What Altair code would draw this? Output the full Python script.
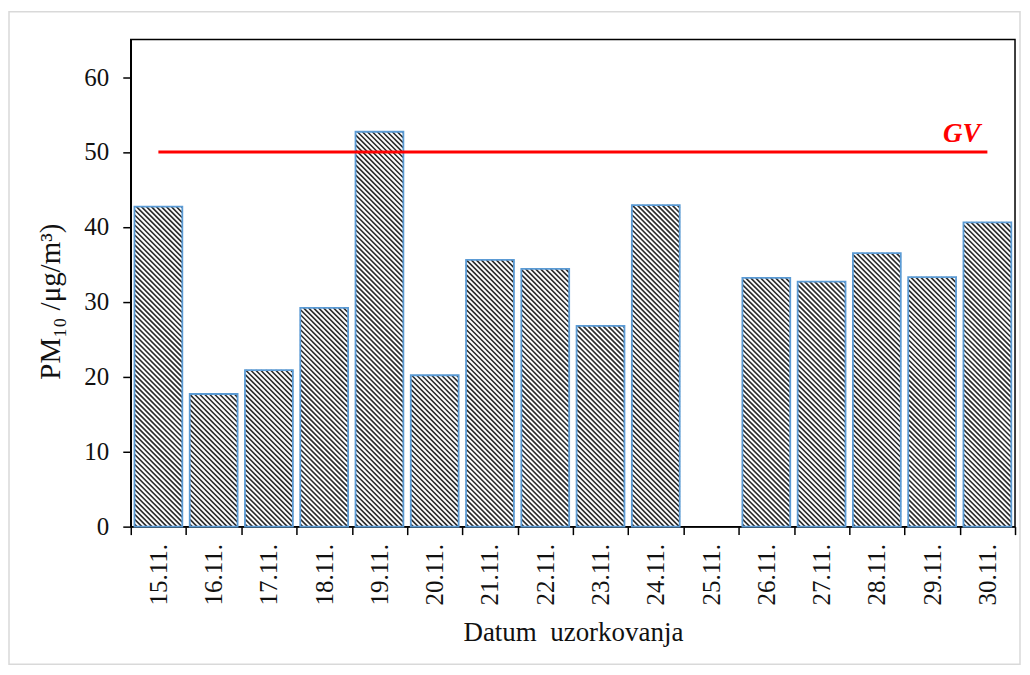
import json
import altair as alt
import pandas as pd

# ---------------- data ----------------
dates = ["15.11.", "16.11.", "17.11.", "18.11.", "19.11.", "20.11.", "21.11.", "22.11.",
         "23.11.", "24.11.", "25.11.", "26.11.", "27.11.", "28.11.", "29.11.", "30.11."]
pm10 = [42.7, 17.7, 20.9, 29.2, 52.7, 20.2, 35.6, 34.4,
        26.8, 42.9, None, 33.2, 32.7, 36.5, 33.3, 40.6]
gv_limit = 50
gv_label = "GV"
y_ticks = [0, 10, 20, 30, 40, 50, 60]
x_title = "Datum\u00a0 uzorkovanja"
y_title = "PM\u2081\u2080 /\u03bcg/m\u00b3)"

# ---------------- layout / style ----------------
n = len(dates)
W, H = 886, 488
YMAX = 65
HALF = 0.433          # half bar width in category units
STEP = 5.0            # hatch spacing in px
KX = W / n
KY = H / YMAX
FONT = "Liberation Serif"
BAR_EDGE = "#5b9bd5"

df = pd.DataFrame({"idx": list(range(n)), "date": dates, "pm10": pm10})
bars_df = df.dropna().reset_index(drop=True)

boundaries = [i - 0.5 for i in range(n + 1)]
label_arr = json.dumps(dates + [""])

x_scale = alt.Scale(domain=[-0.5, n - 0.5], nice=False, zero=False)
y_scale = alt.Scale(domain=[0, YMAX], nice=False, zero=True)

x_axis = alt.Axis(values=boundaries, labelExpr=f"{label_arr}[round(datum.value + 0.5)]",
                  labelAngle=270, labelOffset=KX / 2, tickSize=8, labelPadding=9,
                  grid=False, title=x_title, titlePadding=15, labelFlush=False,
                  labelOverlap=False, titleFontSize=27)
y_axis = alt.Axis(values=y_ticks, tickSize=8, labelPadding=14, grid=False,
                  title=y_title, titlePadding=18, titleY=262, titleAngle=270,
                  titleFontSize=29)

base = alt.Chart(bars_df).transform_calculate(
    xl=f"datum.idx - {HALF}", xr=f"datum.idx + {HALF}"
)

bg = base.mark_rect(fill="white").encode(
    x=alt.X("xl:Q", scale=x_scale, axis=x_axis),
    x2="xr:Q",
    y=alt.Y("pm10:Q", scale=y_scale, axis=y_axis),
    y2=alt.datum(0),
)

hatch = base.transform_calculate(
    k="sequence(0, 110)"
).transform_flatten(["k"]).transform_calculate(
    pL=f"(datum.xl + 0.5) * {KX}",
    pR=f"(datum.xr + 0.5) * {KX}",
    pT=f"datum.pm10 * {KY}",
).transform_calculate(
    c=f"datum.pL + (datum.k + 0.5) * {STEP}"
).transform_filter(
    "datum.c < datum.pR + datum.pT"
).transform_calculate(
    ax="max(datum.pL, datum.c - datum.pT)",
    bx="min(datum.pR, datum.c)",
).transform_calculate(
    hx1=f"datum.ax / {KX} - 0.5",
    hy1=f"(datum.c - datum.ax) / {KY}",
    hx2=f"datum.bx / {KX} - 0.5",
    hy2=f"(datum.c - datum.bx) / {KY}",
).mark_rule(color="#2a2a2a", strokeWidth=1.6).encode(
    x=alt.X("hx1:Q", scale=x_scale, axis=x_axis),
    x2="hx2:Q",
    y=alt.Y("hy1:Q", scale=y_scale, axis=y_axis),
    y2="hy2:Q",
)

outline = base.mark_rect(fillOpacity=0, stroke=BAR_EDGE, strokeWidth=1.8).encode(
    x=alt.X("xl:Q", scale=x_scale, axis=x_axis),
    x2="xr:Q",
    y=alt.Y("pm10:Q", scale=y_scale, axis=y_axis),
    y2=alt.datum(0),
)

gv_df = pd.DataFrame({"x1": [0], "x2": [n - 1], "y": [gv_limit], "label": [gv_label]})
gv_line = alt.Chart(gv_df).mark_rule(color="#ff0000", strokeWidth=3).encode(
    x=alt.X("x1:Q", scale=x_scale, axis=x_axis),
    x2="x2:Q",
    y=alt.Y("y:Q", scale=y_scale, axis=y_axis),
)
gv_text = alt.Chart(gv_df).mark_text(
    color="#ff0000", font=FONT, fontSize=27, fontWeight="bold", fontStyle="italic",
    align="right", baseline="alphabetic", dx=-7, dy=-10
).encode(
    x=alt.X("x2:Q", scale=x_scale, axis=x_axis),
    y=alt.Y("y:Q", scale=y_scale, axis=y_axis),
    text="label:N",
)

frame = alt.Chart(pd.DataFrame({"f": [0]})).mark_rect(
    fill=None, stroke="#d9d9d9", strokeWidth=1.5
).encode(
    x=alt.value(-122), x2=alt.value(891), y=alt.value(-28), y2=alt.value(626)
)

chart = alt.layer(bg, hatch, outline, gv_line, gv_text, frame).properties(
    width=W, height=H,
    autosize=alt.AutoSizeParams(type="none"),
    padding={"left": 123, "top": 31, "right": 7, "bottom": 140},
).configure_view(
    stroke="black", strokeWidth=1.5
).configure_axis(
    domainColor="black", domainWidth=1.5, tickColor="black", tickWidth=1.5,
    labelFont=FONT, labelFontSize=25, labelColor="#111111",
    titleFont=FONT, titleFontSize=26, titleFontWeight="normal", titleColor="#111111",
)

chart.save("out.html", embed_options={"renderer": "svg", "actions": False})
